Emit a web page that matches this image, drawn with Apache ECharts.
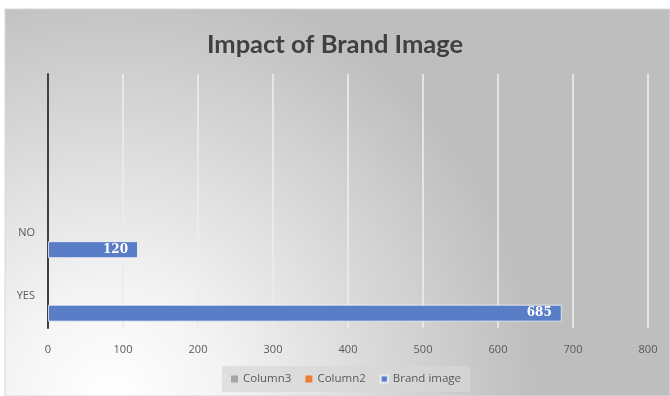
<!DOCTYPE html>
<html><head><meta charset="utf-8">
<script src="https://cdn.jsdelivr.net/npm/echarts@6/dist/echarts.min.js"></script>
<style>html,body{margin:0;padding:0;background:#fff}#c{width:670px;height:396px}</style>
</head><body><div id="c"></div>
<script>
const categories = ['YES', 'NO', '', ''];
const brandImage = [685, 120, '-', '-'];
const column2 = ['-', '-', '-', '-'];
const column3 = ['-', '-', '-', '-'];
const legendNames = ['Column3', 'Column2', 'Brand image'];
const xTicks = {min: 0, max: 800, interval: 100};

const chart = echarts.init(document.getElementById('c'), null, {renderer: 'canvas'});
chart.setOption({
  animation: false,
  backgroundColor: '#ffffff',
  graphic: [{
    type: 'rect', z: -10, silent: true,
    shape: {x: 5, y: 9, width: 665, height: 387},
    style: {
      fill: new echarts.graphic.RadialGradient(0.16, 1.0, 1.1, [
        {offset: 0, color: '#ffffff'},
        {offset: 0.25, color: '#f4f4f4'},
        {offset: 1, color: '#bebebe'}
      ]),
      stroke: '#d8d8d8', lineWidth: 1
    }
  }],
  title: {
    text: 'Impact of Brand Image', left: 'center', top: 27,
    textStyle: {fontFamily: 'Lato', fontWeight: 'bold', fontSize: 25.5, color: '#404040'}
  },
  legend: {
    data: legendNames, bottom: 4, left: 222,
    icon: 'rect', itemWidth: 7, itemHeight: 7, itemGap: 14,
    backgroundColor: 'rgba(215,215,215,0.7)', padding: [7, 9],
    textStyle: {fontFamily: 'Open Sans', fontSize: 11.5, color: '#595959'}
  },
  grid: {left: 48, right: 22, top: 74, bottom: 68},
  xAxis: {
    type: 'value', min: xTicks.min, max: xTicks.max, interval: xTicks.interval,
    axisLine: {show: false}, axisTick: {show: false},
    axisLabel: {color: '#595959', fontFamily: 'Open Sans', fontSize: 11, margin: 16},
    splitLine: {lineStyle: {color: 'rgba(235,235,235,0.85)', width: 2}}
  },
  yAxis: {
    type: 'category', data: categories,
    axisLine: {lineStyle: {color: '#404040', width: 2}},
    axisTick: {show: false},
    axisLabel: {color: '#595959', fontFamily: 'Open Sans', fontSize: 11, margin: 13, padding: [6, 0, 0, 0]}
  },
  series: [
    {name: 'Column3', type: 'bar', data: column3, barGap: '0%', barCategoryGap: '20%', itemStyle: {color: '#A5A5A5'}},
    {name: 'Column2', type: 'bar', data: column2, itemStyle: {color: '#ED7D31'}},
    {name: 'Brand image', type: 'bar', data: brandImage,
     itemStyle: {color: '#5A7DC8', borderColor: 'rgba(255,255,255,0.7)', borderWidth: 1},
     label: {show: true, position: 'insideRight', distance: 10, color: '#ffffff',
             fontFamily: 'DejaVu Serif', fontWeight: 'bold', fontSize: 12}}
  ]
});
</script></body></html>
